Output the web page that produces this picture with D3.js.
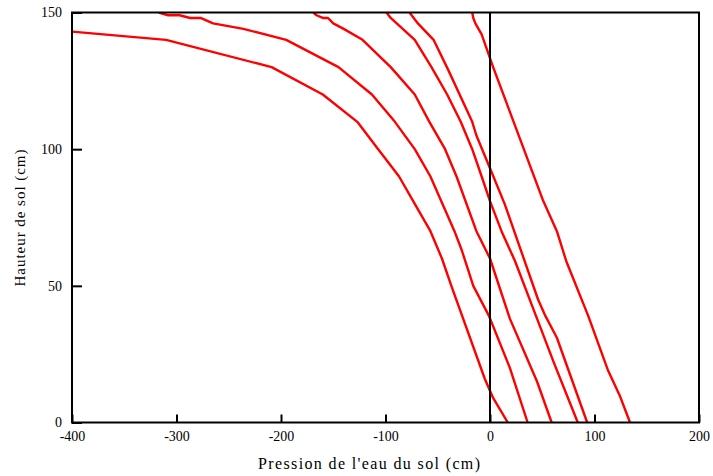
<!DOCTYPE html>
<html><head><meta charset="utf-8">
<script src="https://cdn.jsdelivr.net/npm/d3@7"></script>
<style>body{margin:0;background:#fff}</style>
</head><body>
<svg id="c" width="713" height="476"></svg>
<script>
const xTicks = [-400,-300,-200,-100,0,100,200];
const yTicks = [0,50,100,150];
const xTitle = "Pression de l'eau du sol (cm)";
const yTitle = "Hauteur de sol (cm)";
// [pressure (cm), height (cm)]
const curve1 = [[-400,143],[-310,140],[-209,130],[-160,120],[-127,110],[-107,100],[-87,90],[-72,80],[-57,70],[-46,60],[-37,50],[-5,16],[3,9],[17,0]];
const curve2 = [[-317,150],[-308,149],[-297,149],[-287,148],[-277,148],[-265,146],[-236,144],[-195,140],[-145,130],[-113,120],[-91,110],[-72,100],[-57,90],[-34,70],[-27,63],[-16,50],[-1,39],[19,20],[36,0]];
const curve3 = [[-169,150],[-166,149],[-160,148],[-155,148],[-150,146],[-140,144],[-122,140],[-95,130],[-72,120],[-58,110],[-43,100],[-32,90],[-13,70],[0,60],[19,38],[45,15],[59,0]];
const curve4 = [[-99,150],[-95,148],[-72,140],[-56,130],[-41,120],[-28,110],[-17,100],[-8,90],[0,81],[11,70],[24,59],[45,38],[61,22],[84,0]];
const curve5 = [[-77,150],[-73,148],[-69,146],[-54,140],[-40,129],[-17,110],[-13,105],[0,93],[14,80],[46,45],[53,39],[64,31],[93,0]];
const curve6 = [[-17,150],[-16,148],[-14,146],[-8,142],[3,130],[51,81],[64,70],[73,59],[94,39],[113,19],[124,10],[134,0]];
const curves = [curve1,curve2,curve3,curve4,curve5,curve6];

const svg = d3.select("#c");
const L=72, R=699, T=12.5, B=422.5;
const x = d3.scaleLinear().domain([-400,200]).range([L,R]);
const y = d3.scaleLinear().domain([0,150]).range([B,T]);
const font = "'Liberation Serif','Times New Roman',serif";

svg.append("defs").append("clipPath").attr("id","clip")
  .append("rect").attr("x",L).attr("y",T).attr("width",R-L).attr("height",B-T);

const line = d3.line().x(d=>x(d[0])).y(d=>y(d[1]));
svg.append("g").attr("clip-path","url(#clip)")
  .selectAll("path").data(curves).join("path")
  .attr("d",line).attr("fill","none").attr("stroke","#ff0000")
  .attr("stroke-width",2.4).attr("stroke-linejoin","round");

// zero line
svg.append("line").attr("x1",x(0)).attr("x2",x(0)).attr("y1",T).attr("y2",B)
  .attr("stroke","#000").attr("stroke-width",2);

const gx = svg.append("g").attr("transform",`translate(0,${B})`)
  .call(d3.axisBottom(x).tickValues(xTicks).tickSizeInner(-8).tickSizeOuter(0).tickPadding(9).tickFormat(d3.format("d")));
const gy = svg.append("g").attr("transform",`translate(${L},0)`)
  .call(d3.axisLeft(y).tickValues(yTicks).tickSizeInner(-10).tickSizeOuter(0).tickPadding(10).tickFormat(d3.format("d")));
[gx,gy].forEach(g=>{
  g.select(".domain").remove();
  g.selectAll(".tick line").attr("stroke","#000").attr("stroke-width",2);
  g.selectAll(".tick text").attr("font-family",font).attr("font-size",14).attr("fill","#000");
});
gx.selectAll(".tick text").text(d=>d3.format("d")(d).replace("−","-"));

svg.append("rect").attr("x",L).attr("y",T).attr("width",R-L).attr("height",B-T)
  .attr("fill","none").attr("stroke","#000").attr("stroke-width",2);

svg.append("text").attr("x",369).attr("y",469).attr("text-anchor","middle")
  .attr("font-family",font).attr("font-size",16).attr("textLength",222).attr("lengthAdjust","spacing")
  .text(xTitle);
svg.append("text").attr("transform","translate(25,218) rotate(-90)").attr("text-anchor","middle")
  .attr("font-family",font).attr("font-size",15).attr("textLength",137).attr("lengthAdjust","spacing")
  .text(yTitle);
</script>
</body></html>
